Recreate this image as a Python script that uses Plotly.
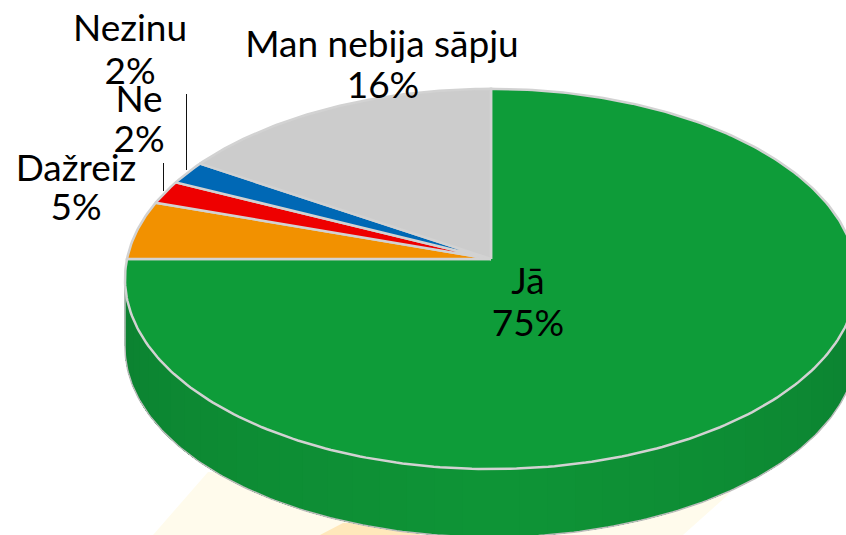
import math
import plotly.graph_objects as go

categories = ["Jā", "Dažreiz", "Ne", "Nezinu", "Man nebija sāpju"]
values = [75, 5, 2, 2, 16]
colors = ["#0e9c39", "#f29100", "#ee0000", "#0068b5", "#cccccc"]
name_pos = [(528, 285), (76, 172), (139, 103), (130, 32), (382, 48)]
pct_pos = [(528, 327), (76, 211), (139, 143), (130, 75), (383, 89)]
leaders = [None, None, ((163.5, 163), (163.5, 191)), ((186.5, 94), (186.5, 170)), None]
FONT = "Lato"
FS = 37

CX, CY, A, B, P, DEPTH = 491, 259, 364, 188, 0.105, 68


def rim(deg, dy=0):
    t = math.radians(deg)
    d = 1 + P * math.cos(t)
    return CX + A * math.sin(t) / d, CY - B * math.cos(t) / d + dy


fig = go.Figure()

# side wall: painter's order, each band reaches to the far end so no seams show
N = 42
t0, t1 = 96, 264
for i in range(N):
    a = t0 + (t1 - t0) * i / N
    m = 40
    top = [rim(a + (t1 - a) * j / m) for j in range(m + 1)]
    bot = [rim(a + (t1 - a) * j / m, DEPTH) for j in range(m + 1)]
    pts = top + bot[::-1]
    f = i / (N - 1)
    k = 1 - abs(2 * f - 1.0)
    g = int(0x82 + (0x95 - 0x82) * k)
    r = int(0x0c + 3 * k)
    bl = int(0x31 + 6 * k)
    col = f"rgb({r},{g},{bl})"
    fig.add_trace(go.Scatter(x=[p[0] for p in pts], y=[p[1] for p in pts], mode="lines",
                             fill="toself", fillcolor=col, line=dict(width=0),
                             hoverinfo="skip", showlegend=False))

# outline of side wall
low = [rim(t0 + (t1 - t0) * i / 200, DEPTH) for i in range(201)]
fig.add_trace(go.Scatter(x=[rim(t0)[0]] + [p[0] for p in low] + [rim(t1)[0]],
                         y=[rim(t0)[1]] + [p[1] for p in low] + [rim(t1)[1]],
                         mode="lines", line=dict(color="#bdbdbd", width=1.5),
                         hoverinfo="skip", showlegend=False))

# top slices
total = sum(values)
start = 0.0
for cat, v, c in zip(categories, values, colors):
    end = start + 360 * v / total
    n = max(4, int(v * 4))
    arc = [rim(start + (end - start) * i / n) for i in range(n + 1)]
    xs = [CX] + [p[0] for p in arc] + [CX]
    ys = [CY] + [p[1] for p in arc] + [CY]
    fig.add_trace(go.Scatter(x=xs, y=ys, mode="lines", fill="toself", fillcolor=c,
                             line=dict(color="#d2d2d2", width=2.5), name=cat,
                             hoverinfo="skip", showlegend=False))
    start = end

# labels
fig.add_trace(go.Scatter(x=[p[0] for p in name_pos], y=[p[1] for p in name_pos],
                         mode="text", text=categories, textposition="middle center",
                         textfont=dict(family=FONT, size=FS, color="#000000"),
                         hoverinfo="skip", showlegend=False))
fig.add_trace(go.Scatter(x=[p[0] for p in pct_pos], y=[p[1] for p in pct_pos],
                         mode="text", text=[f"{v}%" for v in values], textposition="middle center",
                         textfont=dict(family=FONT, size=FS, color="#000000"),
                         hoverinfo="skip", showlegend=False))

for seg in leaders:
    if seg:
        fig.add_trace(go.Scatter(x=[seg[0][0], seg[1][0]], y=[seg[0][1], seg[1][1]], mode="lines",
                                 line=dict(color="#111111", width=1), hoverinfo="skip", showlegend=False))

# faint backdrop
shapes = [
    dict(type="path", path="M 153 535 L 208 472 L 740 472 L 730 493 L 683 535 Z",
         fillcolor="#fffbec", line=dict(width=0), layer="below"),
    dict(type="path", path="M 320 535 L 343 523 L 420 523 L 420 535 Z",
         fillcolor="#ffe8bb", line=dict(width=0), layer="below"),
]

fig.update_layout(
    width=846, height=535, margin=dict(l=0, r=0, t=0, b=0),
    paper_bgcolor="white", plot_bgcolor="white", shapes=shapes,
    xaxis=dict(range=[0, 846], visible=False, fixedrange=True),
    yaxis=dict(range=[535, 0], visible=False, fixedrange=True),
    showlegend=False,
)
fig.write_html("out.html", config={"displayModeBar": False},
               post_script="document.body.style.margin='0';document.documentElement.style.overflow='hidden';")
